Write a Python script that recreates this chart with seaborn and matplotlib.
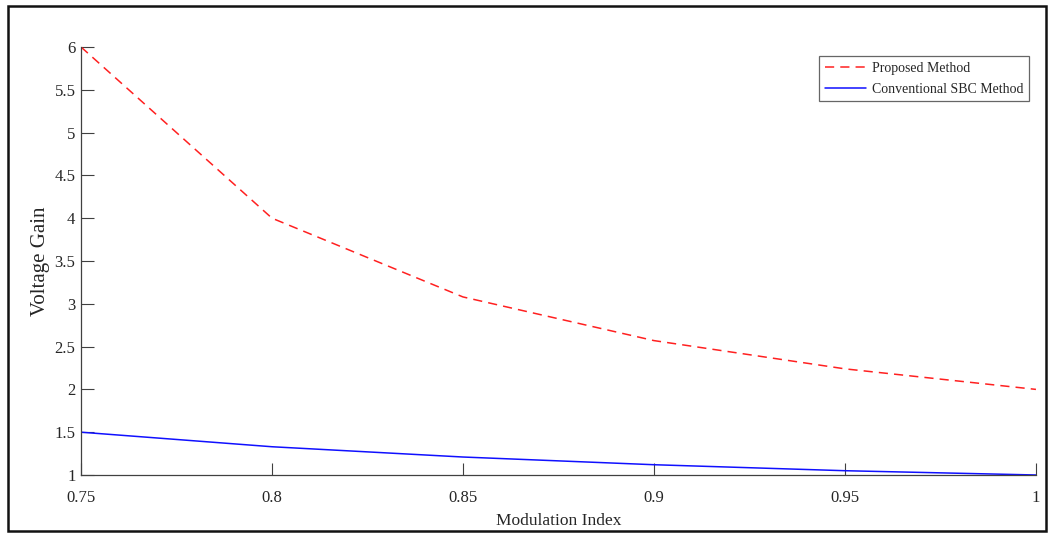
import pandas as pd
import matplotlib.pyplot as plt
import matplotlib.patches as mpatches
import seaborn as sns

# data
mod_index = [0.75, 0.8, 0.85, 0.9, 0.95, 1.0]
proposed = [6.0, 4.0, 3.08, 2.57, 2.24, 2.0]
conventional = [1.5, 1.33, 1.21, 1.12, 1.05, 1.0]
x_ticks = [0.75, 0.8, 0.85, 0.9, 0.95, 1]
x_ticklabels = ['0.75', '0.8', '0.85', '0.9', '0.95', '1']
y_ticks = [1, 1.5, 2, 2.5, 3, 3.5, 4, 4.5, 5, 5.5, 6]
y_ticklabels = ['1', '1.5', '2', '2.5', '3', '3.5', '4', '4.5', '5', '5.5', '6']

sns.set_style('white')
plt.rcParams['font.family'] = ['Liberation Serif', 'DejaVu Serif']

fig = plt.figure(figsize=(10.48, 5.34), dpi=100)
ax = fig.add_axes([0.0773, 0.1105, 0.9112, 0.8015])

df = pd.DataFrame({'M': mod_index, 'Proposed': proposed, 'Conventional': conventional})
sns.lineplot(data=df, x='M', y='Proposed', ax=ax, color='#ff2020', linestyle=(0, (6, 4)),
             linewidth=1.1, label='Proposed Method')
sns.lineplot(data=df, x='M', y='Conventional', ax=ax, color='#1010ff', linewidth=1.1,
             label='Conventional SBC Method')

ax.set_xlim(0.75, 1)
ax.set_ylim(1, 6)
ax.set_xticks(x_ticks)
ax.set_xticklabels(x_ticklabels)
ax.set_yticks(y_ticks)
ax.set_yticklabels(y_ticklabels)
ax.tick_params(bottom=True, left=True, direction='in', length=9, width=0.8, color='#404040',
               labelsize=12, labelcolor='#262626')
ax.tick_params(axis='x', pad=11)
ax.tick_params(axis='y', pad=4)
ax.set_xlabel('Modulation Index', fontsize=12.5, color='#262626', labelpad=5)
ax.set_ylabel('Voltage Gain', fontsize=15, color='#262626', labelpad=3)

sns.despine(ax=ax)
for s in ['left', 'bottom']:
    ax.spines[s].set_color('#404040')
    ax.spines[s].set_linewidth(0.9)

leg = ax.legend(loc='upper right', bbox_to_anchor=(0.9925, 0.978), fontsize=10,
                frameon=True, fancybox=False, handlelength=3.0, handletextpad=0.4,
                borderpad=0.4, labelspacing=0.55, borderaxespad=0)
leg.get_frame().set_edgecolor('#404040')
leg.get_frame().set_linewidth(0.9)

# outer frame of the image
fig.patches.append(mpatches.Rectangle((0.008, 0.006), 0.99, 0.983, transform=fig.transFigure,
                                      fill=False, edgecolor='#111111', linewidth=1.8))

fig.savefig('out.png', dpi=100)
